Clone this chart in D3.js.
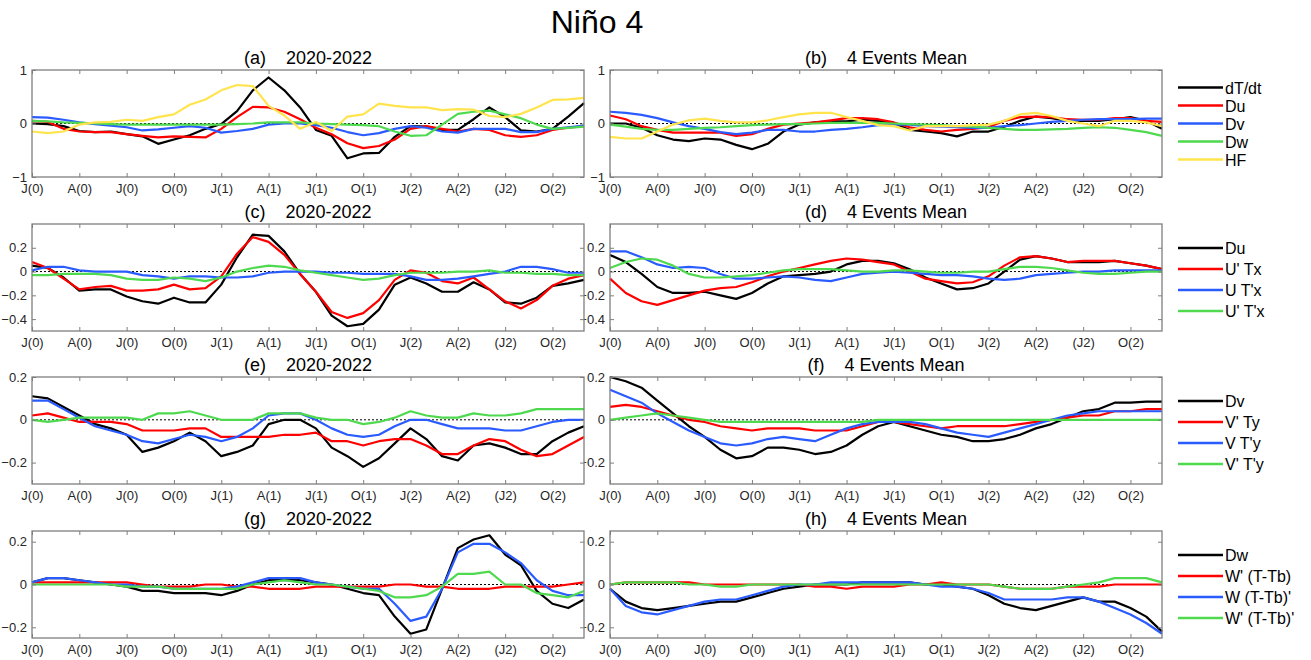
<!DOCTYPE html>
<html>
<head>
<meta charset="utf-8">
<script src="https://cdn.jsdelivr.net/npm/d3@7"></script>
<style>
  body { margin: 0; background: #fff; }
  svg, svg text { font-family: Arial, "Liberation Sans", Helvetica, sans-serif; }
  .tick-label { font-size: 13px; fill: #262626; font-family: Arial, "Liberation Sans", Helvetica, sans-serif; }
  .sub { font-size: 18px; fill: #000; white-space: pre; }
  .leg { font-size: 16px; fill: #000; }
</style>
</head>
<body>
<script>
// month index 0..35, ticks every 3 months
var months = d3.range(36);
var tickIdx = [0, 3, 6, 9, 12, 15, 18, 21, 24, 27, 30, 33];
var tickLabels = ["J(0)", "A(0)", "J(0)", "O(0)", "J(1)", "A(1)", "J(1)", "O(1)", "J(2)", "A(2)", "(J2)", "O(2)"];

// (a) 2020-2022
var a_dTdt = [0,-0.01,-0.05,-0.14,-0.16,-0.15,-0.2,-0.24,-0.38,-0.3,-0.22,-0.1,-0.01,0.23,0.62,0.86,0.62,0.3,-0.12,-0.23,-0.65,-0.56,-0.55,-0.25,-0.05,-0.06,-0.12,-0.12,0.08,0.3,0.12,-0.13,-0.15,-0.1,0.13,0.38];
var a_Du   = [0.05,0.03,-0.1,-0.15,-0.16,-0.16,-0.2,-0.23,-0.26,-0.24,-0.25,-0.26,-0.1,0.12,0.31,0.3,0.22,0.08,-0.08,-0.2,-0.37,-0.46,-0.42,-0.3,-0.1,-0.05,-0.1,-0.15,-0.1,-0.12,-0.22,-0.25,-0.22,-0.12,-0.08,-0.05];
var a_Dv   = [0.12,0.11,0.07,0.02,-0.01,-0.04,-0.07,-0.13,-0.11,-0.08,-0.05,-0.08,-0.17,-0.14,-0.1,-0.02,0,0,-0.03,-0.08,-0.16,-0.22,-0.18,-0.1,-0.05,-0.08,-0.15,-0.17,-0.1,-0.1,-0.1,-0.16,-0.16,-0.1,-0.07,-0.04];
var a_Dw   = [0.05,0.04,0.02,0.01,0,-0.01,-0.02,-0.02,-0.02,-0.02,-0.02,-0.02,-0.02,-0.01,0,0.02,0.02,0.02,0,-0.01,-0.02,-0.03,-0.05,-0.15,-0.23,-0.22,-0.02,0.18,0.22,0.24,0.17,0.1,-0.02,-0.1,-0.08,-0.06];
var a_HF   = [-0.15,-0.18,-0.15,-0.02,0.02,0.03,0.07,0.05,0.12,0.17,0.35,0.45,0.62,0.72,0.7,0.33,0.15,-0.1,0.03,-0.14,0.13,0.17,0.37,0.33,0.3,0.3,0.25,0.27,0.26,0.14,0.12,0.18,0.3,0.44,0.45,0.48];

// (b) 4 Events Mean
var b_dTdt = [0,0,-0.08,-0.22,-0.3,-0.33,-0.28,-0.3,-0.4,-0.48,-0.38,-0.15,-0.02,0.02,0.04,0.04,0.07,0.05,0.01,-0.12,-0.15,-0.18,-0.24,-0.15,-0.15,-0.06,0.05,0.13,0.1,0.05,0.05,0.05,0.08,0.12,0.05,-0.1];
var b_Du   = [0.15,0.08,-0.05,-0.12,-0.17,-0.17,-0.17,-0.17,-0.23,-0.2,-0.1,-0.02,0,0.02,0.06,0.1,0.1,0.08,0.02,-0.07,-0.12,-0.15,-0.12,-0.1,-0.07,0.05,0.12,0.13,0.12,0.08,0.07,0.07,0.1,0.1,0.05,0.03];
var b_Dv   = [0.22,0.2,0.16,0.1,0.02,-0.05,-0.1,-0.16,-0.2,-0.17,-0.12,-0.12,-0.15,-0.15,-0.12,-0.1,-0.07,-0.03,-0.02,-0.02,-0.05,-0.06,-0.07,-0.08,-0.08,-0.05,-0.03,0,0.03,0.05,0.07,0.08,0.08,0.08,0.09,0.09];
var b_Dw   = [-0.02,-0.06,-0.1,-0.12,-0.12,-0.1,-0.08,-0.07,-0.05,-0.03,-0.02,-0.01,-0.01,0,0.01,0.01,0.01,0.01,0,-0.01,-0.02,-0.03,-0.05,-0.06,-0.08,-0.1,-0.12,-0.12,-0.11,-0.1,-0.08,-0.07,-0.08,-0.12,-0.16,-0.23];
var b_HF   = [-0.25,-0.28,-0.28,-0.15,-0.02,0.06,0.09,0.05,0.02,0.02,0.06,0.12,0.17,0.2,0.2,0.12,0.05,-0.03,-0.05,-0.13,-0.05,-0.05,-0.05,-0.03,-0.02,0.05,0.17,0.2,0.14,0.05,0,-0.05,0.05,0.05,0.02,-0.05];

// (c) 2020-2022
var c_Du   = [0.05,0.03,-0.05,-0.16,-0.15,-0.15,-0.21,-0.25,-0.27,-0.22,-0.26,-0.26,-0.11,0.12,0.31,0.3,0.17,-0.02,-0.17,-0.37,-0.46,-0.44,-0.32,-0.11,-0.05,-0.1,-0.17,-0.17,-0.09,-0.15,-0.26,-0.27,-0.22,-0.12,-0.1,-0.07];
var c_UpTx = [0.08,0.03,-0.06,-0.15,-0.13,-0.12,-0.16,-0.16,-0.15,-0.11,-0.15,-0.14,-0.04,0.15,0.29,0.25,0.14,-0.02,-0.17,-0.34,-0.39,-0.35,-0.24,-0.07,0.01,-0.01,-0.08,-0.1,-0.05,-0.15,-0.25,-0.31,-0.24,-0.12,-0.06,-0.03];
var c_UTpx = [0.01,0.04,0.04,0.01,0,0,0,-0.03,-0.04,-0.06,-0.04,-0.04,-0.05,-0.05,-0.04,-0.01,0,0,0,-0.01,-0.01,-0.02,-0.02,-0.02,-0.04,-0.07,-0.07,-0.06,-0.04,-0.02,0,0.04,0.04,0.02,-0.01,-0.01];
var c_UpTpx = [-0.03,-0.03,-0.02,-0.02,-0.02,-0.03,-0.06,-0.07,-0.07,-0.05,-0.06,-0.08,-0.05,0,0.03,0.05,0.04,0.01,-0.01,-0.03,-0.05,-0.07,-0.06,-0.03,-0.01,-0.01,-0.01,0,0,0.01,-0.01,-0.01,-0.02,-0.02,-0.03,-0.03];

// (d) 4 Events Mean
var d_Du   = [0.14,0.08,-0.02,-0.13,-0.18,-0.18,-0.17,-0.2,-0.23,-0.18,-0.1,-0.04,-0.03,-0.02,0,0.06,0.09,0.09,0.07,0.02,-0.05,-0.1,-0.15,-0.14,-0.1,0,0.1,0.13,0.11,0.08,0.08,0.08,0.09,0.07,0.05,0.02];
var d_UpTx = [-0.06,-0.18,-0.25,-0.28,-0.24,-0.2,-0.16,-0.14,-0.13,-0.09,-0.04,0,0.03,0.06,0.09,0.11,0.1,0.08,0.06,0,-0.06,-0.08,-0.1,-0.09,-0.04,0.05,0.12,0.13,0.11,0.08,0.09,0.09,0.09,0.07,0.05,0.02];
var d_UTpx = [0.17,0.17,0.12,0.06,0.03,0.04,0.03,-0.02,-0.06,-0.06,-0.05,-0.04,-0.05,-0.07,-0.08,-0.05,-0.02,-0.01,0,-0.01,-0.02,-0.03,-0.03,-0.04,-0.06,-0.07,-0.06,-0.03,-0.02,-0.01,0,0,0.01,0.01,0.01,0.01];
var d_UpTpx = [0.03,0.08,0.11,0.1,0.05,-0.02,-0.05,-0.05,-0.04,-0.03,-0.01,0.01,0.02,0.02,0.02,0.01,0,0,0.01,0.01,0,-0.01,-0.01,0,0,0.02,0.04,0.04,0.03,0.01,-0.01,-0.02,-0.02,-0.01,0,0];

// (e) 2020-2022
var e_Dv   = [0.11,0.1,0.06,0.02,-0.02,-0.04,-0.07,-0.15,-0.13,-0.1,-0.06,-0.1,-0.17,-0.15,-0.12,-0.02,0,0,-0.04,-0.13,-0.17,-0.22,-0.18,-0.11,-0.04,-0.09,-0.17,-0.19,-0.12,-0.11,-0.13,-0.16,-0.16,-0.1,-0.06,-0.03];
var e_VpTy = [0.02,0.03,0.01,-0.01,-0.01,-0.01,-0.02,-0.05,-0.05,-0.05,-0.04,-0.04,-0.08,-0.08,-0.08,-0.08,-0.07,-0.07,-0.06,-0.1,-0.1,-0.12,-0.1,-0.09,-0.09,-0.12,-0.16,-0.16,-0.12,-0.09,-0.1,-0.14,-0.17,-0.16,-0.12,-0.08];
var e_VTpy = [0.09,0.09,0.05,0.01,-0.03,-0.05,-0.07,-0.1,-0.11,-0.09,-0.07,-0.08,-0.1,-0.08,-0.04,0.02,0.03,0.03,0,-0.04,-0.07,-0.08,-0.07,-0.03,0,0,-0.02,-0.04,-0.04,-0.04,-0.05,-0.05,-0.03,-0.01,0,0];
var e_VpTpy = [0,-0.01,0,0.01,0.01,0.01,0.01,0,0.03,0.03,0.04,0.02,0,0,0,0.03,0.03,0.03,0.01,0,0,-0.02,-0.01,0.01,0.04,0.02,0.01,0.01,0.03,0.02,0.02,0.03,0.05,0.05,0.05,0.05];

// (f) 4 Events Mean
var f_Dv   = [0.2,0.18,0.15,0.09,0.03,-0.03,-0.08,-0.14,-0.18,-0.17,-0.13,-0.13,-0.14,-0.16,-0.15,-0.12,-0.07,-0.03,-0.01,-0.03,-0.05,-0.07,-0.08,-0.1,-0.1,-0.09,-0.07,-0.04,-0.02,0.01,0.04,0.05,0.08,0.08,0.085,0.085];
var f_VpTy = [0.06,0.07,0.06,0.04,0.02,0,-0.01,-0.03,-0.04,-0.05,-0.04,-0.04,-0.04,-0.05,-0.05,-0.05,-0.03,-0.01,-0.01,-0.02,-0.03,-0.04,-0.03,-0.03,-0.03,-0.03,-0.02,-0.01,0,0.01,0.02,0.02,0.04,0.04,0.05,0.05];
var f_VTpy = [0.14,0.11,0.08,0.03,-0.01,-0.05,-0.08,-0.11,-0.12,-0.11,-0.09,-0.08,-0.09,-0.1,-0.07,-0.04,-0.02,-0.01,-0.01,-0.01,-0.02,-0.04,-0.06,-0.07,-0.08,-0.06,-0.04,-0.02,0,0.02,0.03,0.04,0.04,0.04,0.04,0.04];
var f_VpTpy = [0,0.01,0.02,0.03,0.02,0.01,0,-0.01,-0.01,-0.01,-0.01,-0.01,-0.01,-0.01,-0.01,-0.01,-0.01,0,0,0,0,0,0,0,0,0,0,0,0,0,0,0,0,0,0,0];

// (g) 2020-2022
var g_Dw   = [0.01,0.03,0.03,0.02,0.01,0,-0.01,-0.03,-0.03,-0.04,-0.04,-0.04,-0.05,-0.03,0,0.02,0.02,0.02,0.01,0,-0.02,-0.04,-0.05,-0.15,-0.23,-0.21,-0.02,0.17,0.21,0.23,0.14,0.09,-0.03,-0.09,-0.11,-0.07];
var g_WpT  = [0.01,0.01,0.01,0.01,0.01,0.01,0.01,0,-0.01,-0.01,-0.01,0,0,-0.01,-0.01,-0.02,-0.02,-0.02,-0.01,-0.01,-0.01,-0.01,-0.01,0,0,-0.01,-0.01,-0.02,-0.02,-0.02,-0.01,-0.01,-0.01,-0.01,0,0.01];
var g_WTp  = [0.01,0.03,0.03,0.02,0.01,0,0,-0.01,-0.01,-0.02,-0.02,-0.02,-0.02,-0.01,0.01,0.03,0.03,0.03,0.01,0,-0.01,-0.02,-0.02,-0.09,-0.17,-0.15,-0.02,0.15,0.19,0.19,0.15,0.1,0.02,-0.03,-0.05,-0.05];
var g_WpTp = [0,0,0,0,0,0,-0.01,-0.01,-0.01,-0.02,-0.02,-0.02,-0.02,-0.02,0,0.01,0.02,0.01,0,0,-0.01,-0.02,-0.03,-0.06,-0.06,-0.05,-0.01,0.05,0.05,0.06,0,0,-0.04,-0.05,-0.06,-0.03];

// (h) 4 Events Mean
var h_Dw   = [-0.02,-0.08,-0.11,-0.12,-0.11,-0.1,-0.09,-0.08,-0.08,-0.06,-0.04,-0.02,-0.01,0,0,0,0.01,0.01,0.01,0.01,0,0,-0.01,-0.02,-0.05,-0.09,-0.11,-0.12,-0.1,-0.08,-0.06,-0.08,-0.08,-0.11,-0.15,-0.22];
var h_WpT  = [0,0.01,0.01,0.01,0.01,0.01,0,0,0,0,0,0,0,-0.01,-0.01,-0.02,-0.01,-0.01,-0.01,0,0,0.01,0,0,0,-0.01,-0.02,-0.02,-0.02,-0.01,-0.01,-0.01,0,0,0,0];
var h_WTp  = [-0.02,-0.1,-0.13,-0.14,-0.12,-0.1,-0.08,-0.07,-0.07,-0.05,-0.03,-0.01,0,0,0.01,0.01,0.01,0.01,0.01,0.01,0,-0.01,-0.01,-0.02,-0.04,-0.07,-0.07,-0.07,-0.07,-0.06,-0.06,-0.08,-0.11,-0.14,-0.18,-0.23];
var h_WpTp = [0,0.01,0.01,0.01,0.01,0,0,-0.01,-0.01,0,0,0,0,0,0,0,0,0,0,0,0,0,0,0,0,-0.01,-0.02,-0.02,-0.02,-0.01,0,0.01,0.03,0.03,0.03,0.01];

// legend names per row
var names1 = ["dT/dt", "Du", "Dv", "Dw", "HF"];
var names2 = ["Du", "U' Tx", "U T'x", "U' T'x"];
var names3 = ["Dv", "V' Ty", "V T'y", "V' T'y"];
var names4 = ["Dw", "W' (T-Tb)", "W (T-Tb)'", "W' (T-Tb)'"];

var yTicks1 = [-1, 0, 1];
var yTicks2 = [-0.4, -0.2, 0, 0.2];
var yTicks3 = [-0.2, 0, 0.2];
var yTicks4 = [-0.2, 0, 0.2];

var colors = ["#000000", "#ff0000", "#2a5bff", "#4fd94f", "#ffe44d"];

var width = 1311, height = 660;
var colX = [[32, 584], [610, 1162]];
var rowTop = [70, 224, 377, 531];
var panelH = 107;

var rows = [
  {names: names1, ticks: yTicks1, dom: [-1, 1], series: [[a_dTdt, a_Du, a_Dv, a_Dw, a_HF], [b_dTdt, b_Du, b_Dv, b_Dw, b_HF]], ids: ["(a)", "(b)"], legStep: 18},
  {names: names2, ticks: yTicks2, dom: [-0.5, 0.4], series: [[c_Du, c_UpTx, c_UTpx, c_UpTpx], [d_Du, d_UpTx, d_UTpx, d_UpTpx]], ids: ["(c)", "(d)"], legStep: 21},
  {names: names3, ticks: yTicks3, dom: [-0.3, 0.2], series: [[e_Dv, e_VpTy, e_VTpy, e_VpTpy], [f_Dv, f_VpTy, f_VTpy, f_VpTpy]], ids: ["(e)", "(f)"], legStep: 21},
  {names: names4, ticks: yTicks4, dom: [-0.25, 0.25], series: [[g_Dw, g_WpT, g_WTp, g_WpTp], [h_Dw, h_WpT, h_WTp, h_WpTp]], ids: ["(g)", "(h)"], legStep: 21}
];
var subTitles = ["2020-2022", "4 Events Mean"];

var svg = d3.select("body").append("svg")
    .attr("width", width)
    .attr("height", height);

svg.append("text")
    .attr("x", 597).attr("y", 33)
    .attr("text-anchor", "middle")
    .style("font-size", "32px")
    .text("Niño 4");

// draw right column first so left boxes sit on top of overflowing labels
[1, 0].forEach(function(c) {
  rows.forEach(function(r, ri) {
    var x0 = colX[c][0], x1 = colX[c][1];
    var top = rowTop[ri], bot = top + panelH;
    var x = d3.scaleLinear().domain([0, 35]).range([x0, x1]);
    var y = d3.scaleLinear().domain(r.dom).range([bot, top]);
    var g = svg.append("g");

    g.append("rect")
      .attr("x", x0).attr("y", top)
      .attr("width", x1 - x0).attr("height", panelH)
      .attr("fill", "#fff");

    // zero line
    g.append("line")
      .attr("x1", x0).attr("x2", x1)
      .attr("y1", y(0)).attr("y2", y(0))
      .attr("stroke", "#000").attr("stroke-width", 1)
      .attr("stroke-dasharray", "2,2");

    var line = d3.line()
      .x(function(d, i) { return x(months[i]); })
      .y(function(d) { return y(d); });

    r.series[c].forEach(function(s, si) {
      g.append("path")
        .datum(s)
        .attr("d", line)
        .attr("fill", "none")
        .attr("stroke", colors[si])
        .attr("stroke-width", 2.2)
        .attr("stroke-linejoin", "round");
    });

    // axes: bottom & left with labels, top & right ticks only
    var xb = g.append("g").attr("transform", "translate(0," + bot + ")")
      .call(d3.axisBottom(x).tickValues(tickIdx).tickSize(-4).tickPadding(7)
        .tickFormat(function(d, i) { return tickLabels[i]; }));
    var xt = g.append("g").attr("transform", "translate(0," + top + ")")
      .call(d3.axisTop(x).tickValues(tickIdx).tickSize(-4).tickFormat(""));
    var yl = g.append("g").attr("transform", "translate(" + x0 + ",0)")
      .call(d3.axisLeft(y).tickValues(r.ticks).tickSize(-4).tickPadding(5)
        .tickFormat(function(d) { return d3.format("")(Math.round(d * 10) / 10); }));
    var yr = g.append("g").attr("transform", "translate(" + x1 + ",0)")
      .call(d3.axisRight(y).tickValues(r.ticks).tickSize(-4).tickFormat(""));

    [xb, xt, yl, yr].forEach(function(a) {
      a.attr("font-family", null).attr("font-size", null);
      a.select(".domain").remove();
      a.selectAll(".tick line").attr("stroke", "#7f7f7f");
      a.selectAll("text").attr("class", "tick-label");
    });

    g.append("rect")
      .attr("x", x0).attr("y", top)
      .attr("width", x1 - x0).attr("height", panelH)
      .attr("fill", "none").attr("stroke", "#7f7f7f").attr("stroke-width", 1.3);

    g.append("text")
      .attr("class", "sub")
      .attr("x", (x0 + x1) / 2).attr("y", top - 6)
      .attr("text-anchor", "middle")
      .text(r.ids[c] + "    " + subTitles[c]);

    // legend next to right column
    if (c === 1) {
      var n = r.names.length;
      var mid = (top + bot) / 2 + (n === 4 ? 2 : 0);
      r.names.forEach(function(nm, k) {
        var ly = mid + (k - (n - 1) / 2) * r.legStep;
        svg.append("line")
          .attr("x1", 1178).attr("x2", 1223)
          .attr("y1", ly).attr("y2", ly)
          .attr("stroke", colors[k]).attr("stroke-width", 2.5);
        svg.append("text")
          .attr("class", "leg")
          .attr("x", 1225).attr("y", ly + 6)
          .text(nm);
      });
    }
  });
});
</script>
</body>
</html>
